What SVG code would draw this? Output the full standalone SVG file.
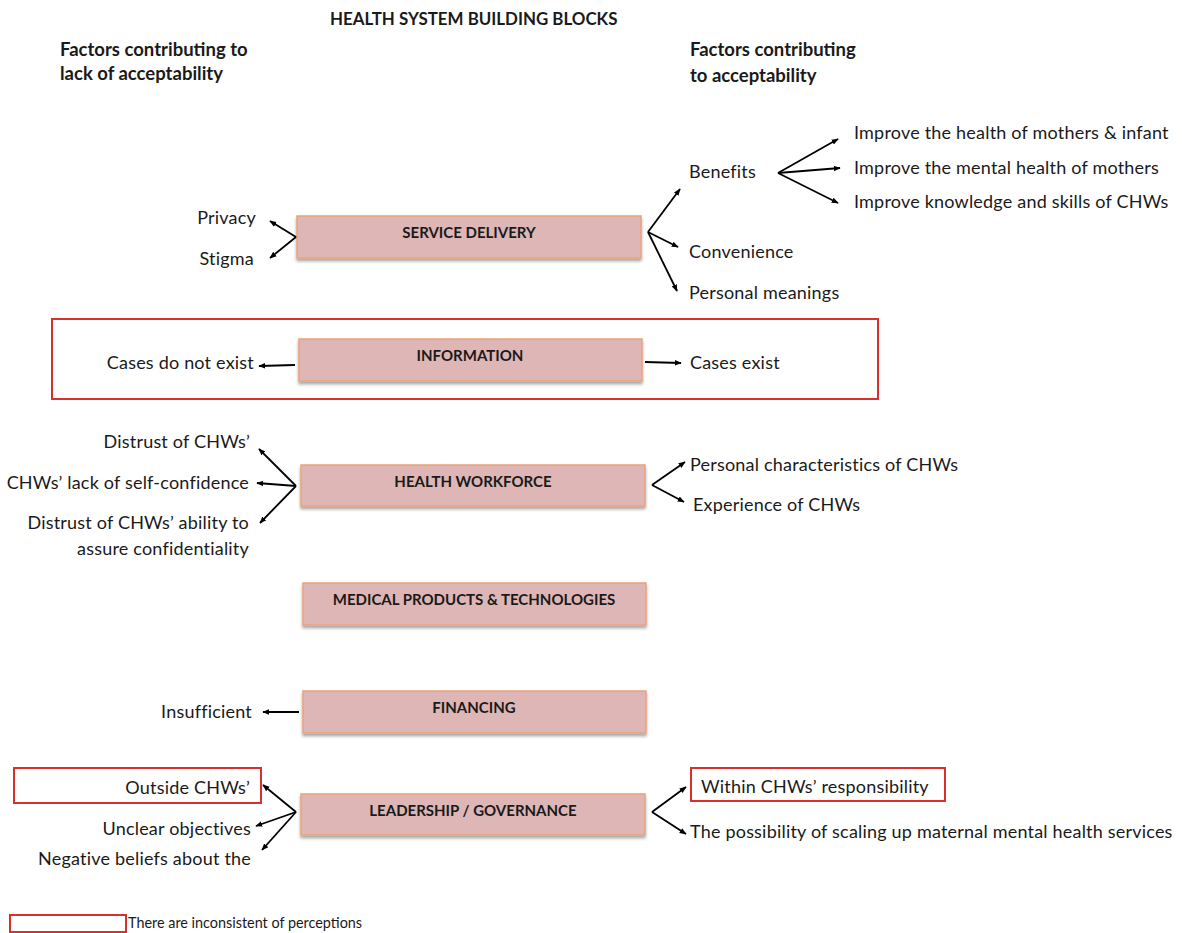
<svg xmlns="http://www.w3.org/2000/svg" width="1182" height="933" viewBox="0 0 1182 933">
<defs>
<style>
.t{font-family:Lato,"Open Sans","Liberation Sans",sans-serif;font-size:18px;letter-spacing:0.2px;fill:#1a1a1a}
.h{font-family:Lato,"Open Sans","Liberation Sans",sans-serif;font-size:18.5px;font-weight:bold;fill:#1a1a1a}
.bl{font-family:Lato,"Open Sans","Liberation Sans",sans-serif;font-size:15px;font-weight:bold;fill:#1a1a1a;text-anchor:middle}
.r{text-anchor:end}
.box{fill:#deb6b6;stroke:#e9a37c;stroke-width:1.5}
.red{fill:none;stroke:#d8302c;stroke-width:2}
.c{fill:none;stroke:#000;stroke-width:1.8;marker-end:url(#a)}
</style>
<marker id="a" viewBox="0 0 10 10" refX="9" refY="5" markerWidth="7" markerHeight="7" orient="auto" markerUnits="userSpaceOnUse"><path d="M0,1 L10,5 L0,9 z" fill="#000"/></marker>
<filter id="sh" x="-5%" y="-20%" width="110%" height="150%"><feDropShadow dx="0" dy="2.5" stdDeviation="1.5" flood-color="#000" flood-opacity="0.35"/></filter>
</defs>
<rect width="1182" height="933" fill="#fff"/>

<g id="headers">
<text x="330" y="25" class="h" style="font-size:16.9px">HEALTH SYSTEM BUILDING BLOCKS</text>
<text x="60" y="56" class="h">Factors contributing to</text>
<text x="60" y="80" class="h">lack of acceptability</text>
<text x="690" y="56" class="h">Factors contributing</text>
<text x="690" y="82" class="h">to acceptability</text>
</g>

<g id="info-frame"><rect x="52" y="319" width="826" height="80" class="red"/></g>

<g id="service-delivery"><rect x="297" y="216" width="344" height="42" class="box" filter="url(#sh)"/><text x="469" y="238" class="bl">SERVICE DELIVERY</text></g>
<g id="information"><rect x="299" y="339" width="343" height="42" class="box" filter="url(#sh)"/><text x="470" y="361" class="bl">INFORMATION</text></g>
<g id="health-workforce"><rect x="301" y="465" width="344" height="41" class="box" filter="url(#sh)"/><text x="473" y="487" class="bl">HEALTH WORKFORCE</text></g>
<g id="medical-products"><rect x="303" y="583" width="343" height="42" class="box" filter="url(#sh)"/><text x="474" y="605" class="bl">MEDICAL PRODUCTS &amp; TECHNOLOGIES</text></g>
<g id="financing"><rect x="303" y="691" width="343" height="42" class="box" filter="url(#sh)"/><text x="474" y="713" class="bl">FINANCING</text></g>
<g id="leadership"><rect x="301" y="794" width="344" height="41" class="box" filter="url(#sh)"/><text x="473" y="816" class="bl">LEADERSHIP / GOVERNANCE</text></g>

<g id="sd-factors">
<text x="256" y="224" class="t r">Privacy</text>
<text x="254" y="265" class="t r">Stigma</text>
<text x="689" y="178" class="t">Benefits</text>
<text x="854" y="139" class="t">Improve the health of mothers &amp; infant</text>
<text x="854" y="174" class="t">Improve the mental health of mothers</text>
<text x="854" y="208" class="t">Improve knowledge and skills of CHWs</text>
<text x="689" y="258" class="t">Convenience</text>
<text x="689" y="299" class="t">Personal meanings</text>
</g>
<g id="info-factors">
<text x="254" y="369" class="t r">Cases do not exist</text>
<text x="690" y="369" class="t">Cases exist</text>
</g>
<g id="hw-factors">
<text x="250" y="448" class="t r">Distrust of CHWs’</text>
<text x="249" y="489" class="t r">CHWs’ lack of self-confidence</text>
<text x="249" y="529" class="t r">Distrust of CHWs’ ability to</text>
<text x="249" y="555" class="t r">assure confidentiality</text>
<text x="690" y="471" class="t">Personal characteristics of CHWs</text>
<text x="693" y="511" class="t">Experience of CHWs</text>
</g>
<g id="fin-factors"><text x="252" y="718" class="t r">Insufficient</text></g>
<g id="lg-factors">
<rect x="14" y="768" width="247" height="35" class="red"/>
<text x="250" y="794" class="t r">Outside CHWs’</text>
<text x="251" y="835" class="t r">Unclear objectives</text>
<text x="251" y="865" class="t r">Negative beliefs about the</text>
<rect x="691" y="768" width="254" height="33" class="red"/>
<text x="701" y="793" class="t">Within CHWs’ responsibility</text>
<text x="690" y="838" class="t">The possibility of scaling up maternal mental health services</text>
</g>

<g id="legend">
<rect x="10" y="915" width="116" height="17" class="red"/>
<text x="128" y="928" class="t" style="font-size:14.4px;letter-spacing:0">There are inconsistent of perceptions</text>
</g>

<g id="connectors">
<path d="M296,237 L270,221" class="c"/>
<path d="M296,237 L270,258" class="c"/>
<path d="M648,232 L680,189" class="c"/>
<path d="M648,232 L678,247" class="c"/>
<path d="M648,232 L677,291" class="c"/>
<path d="M778,173 L838,139" class="c"/>
<path d="M778,173 L840,168" class="c"/>
<path d="M778,173 L838,203" class="c"/>
<path d="M295,365 L259,366" class="c"/>
<path d="M645,362 L681,363" class="c"/>
<path d="M296,486 L259,449" class="c"/>
<path d="M296,486 L257,483" class="c"/>
<path d="M296,486 L260,523" class="c"/>
<path d="M652,485 L685,462" class="c"/>
<path d="M652,485 L684,502" class="c"/>
<path d="M299,712 L263,712" class="c"/>
<path d="M296,812 L263,785" class="c"/>
<path d="M296,812 L256,826" class="c"/>
<path d="M296,812 L262,850" class="c"/>
<path d="M652,812 L686,787" class="c"/>
<path d="M652,812 L686,834" class="c"/>
</g>
</svg>
